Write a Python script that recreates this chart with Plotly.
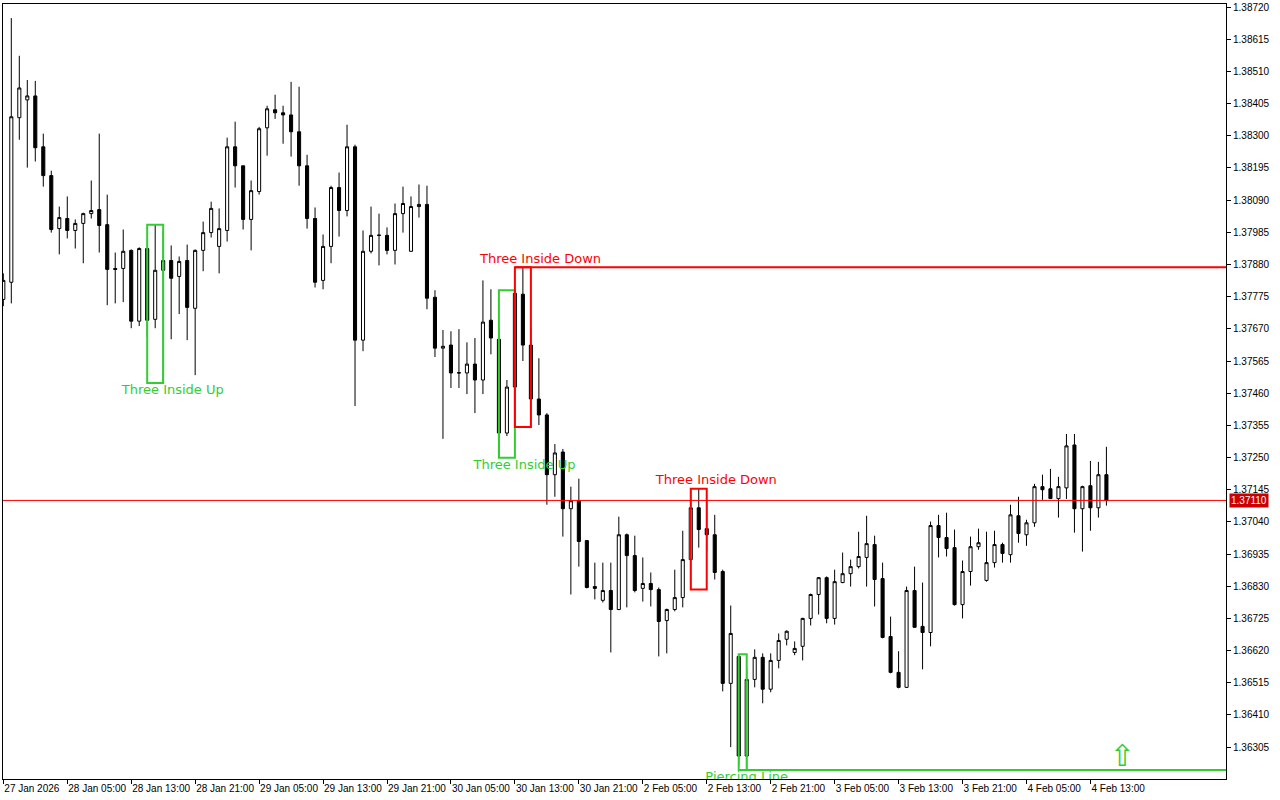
import plotly.graph_objects as go

# ---------------- data (hourly candles, 27 Jan 21:00 -> 4 Feb 18:00) ----------------
open_ = [1.37766, 1.37822, 1.38359, 1.38417, 1.38430, 1.38264, 1.38170, 1.37997, 1.38030, 1.37991,
         1.38014, 1.38046, 1.38059, 1.38010, 1.37867, 1.37867, 1.37926, 1.37695, 1.37932, 1.37701,
         1.37861, 1.37893, 1.37841, 1.37893, 1.37737, 1.37926, 1.37984, 1.37939, 1.37991, 1.38264,
         1.38202, 1.38027, 1.38118, 1.38326, 1.38385, 1.38375, 1.38368, 1.38313, 1.38202, 1.38030,
         1.37828, 1.37939, 1.38131, 1.38056, 1.38264, 1.37633, 1.37923, 1.37976, 1.37975, 1.37926,
         1.38046, 1.37923, 1.38069, 1.38076, 1.37773, 1.37607, 1.37617, 1.37527, 1.37526, 1.37555,
         1.37503, 1.37698, 1.37636, 1.37330, 1.37480, 1.37783, 1.37617, 1.37441, 1.37389, 1.37194,
         1.37268, 1.37083, 1.37109, 1.36979, 1.36829, 1.36784, 1.36816, 1.36754, 1.36998, 1.36930,
         1.36823, 1.36839, 1.36819, 1.36718, 1.36754, 1.36793, 1.36917, 1.37086, 1.37018, 1.36998,
         1.36878, 1.36513, 1.36601, 1.36276, 1.36526, 1.36598, 1.36494, 1.36588, 1.36657, 1.36614,
         1.36634, 1.36725, 1.36803, 1.36858, 1.36725, 1.36842, 1.36871, 1.36894, 1.36924, 1.36966,
         1.36855, 1.36666, 1.36549, 1.36500, 1.36816, 1.36699, 1.36679, 1.37028, 1.36989, 1.36956,
         1.36770, 1.36878, 1.36959, 1.36849, 1.36907, 1.36966, 1.36933, 1.37060, 1.36998, 1.37037,
         1.37155, 1.37148, 1.37116, 1.37151, 1.37291, 1.37083, 1.37158, 1.37086, 1.37194]

high = [1.37851, 1.38684, 1.38561, 1.38482, 1.38479, 1.38307, 1.38186, 1.38069, 1.38102, 1.38027,
        1.38049, 1.38154, 1.38307, 1.38108, 1.37919, 1.37994, 1.37929, 1.37936, 1.37936, 1.38010,
        1.37991, 1.37942, 1.37906, 1.37945, 1.37929, 1.38020, 1.38085, 1.38063, 1.38294, 1.38346,
        1.38202, 1.38154, 1.38329, 1.38398, 1.38434, 1.38398, 1.38476, 1.38460, 1.38238, 1.38066,
        1.37978, 1.38137, 1.38180, 1.38336, 1.38271, 1.37991, 1.38069, 1.38046, 1.38001, 1.38079,
        1.38134, 1.38102, 1.38141, 1.38137, 1.37796, 1.37666, 1.37662, 1.37669, 1.37626, 1.37640,
        1.37828, 1.37799, 1.37672, 1.37503, 1.37796, 1.37871, 1.37672, 1.37574, 1.37395, 1.37294,
        1.37278, 1.37155, 1.37181, 1.36979, 1.36907, 1.36907, 1.36907, 1.37057, 1.37002, 1.36995,
        1.36924, 1.36875, 1.36826, 1.36757, 1.36884, 1.37011, 1.37148, 1.37148, 1.37112, 1.37063,
        1.36884, 1.36767, 1.36608, 1.36562, 1.36624, 1.36611, 1.36611, 1.36676, 1.36686, 1.36650,
        1.36727, 1.36806, 1.36860, 1.36862, 1.36884, 1.36940, 1.36917, 1.37008, 1.37060, 1.36995,
        1.36907, 1.36731, 1.36618, 1.36829, 1.36894, 1.36842, 1.37041, 1.37063, 1.37070, 1.37015,
        1.36914, 1.36992, 1.37018, 1.37008, 1.37011, 1.36972, 1.37096, 1.37122, 1.37047, 1.37164,
        1.37194, 1.37213, 1.37187, 1.37327, 1.37327, 1.37158, 1.37239, 1.37236, 1.37285]

low = [1.37744, 1.37753, 1.38287, 1.38196, 1.38216, 1.38134, 1.37984, 1.37913, 1.37965, 1.37932,
       1.37884, 1.38030, 1.37919, 1.37747, 1.37753, 1.37757, 1.37672, 1.37679, 1.37643, 1.37672,
       1.37493, 1.37636, 1.37718, 1.37633, 1.37519, 1.37858, 1.37968, 1.37851, 1.37955, 1.38131,
       1.37994, 1.37926, 1.38108, 1.38235, 1.38355, 1.38274, 1.38232, 1.38137, 1.37997, 1.37805,
       1.37799, 1.37884, 1.37971, 1.38037, 1.37418, 1.37597, 1.37916, 1.37877, 1.37913, 1.37880,
       1.37984, 1.37921, 1.38033, 1.37734, 1.37578, 1.37311, 1.37477, 1.37477, 1.37457, 1.37395,
       1.37457, 1.37587, 1.37249, 1.37320, 1.37444, 1.37565, 1.37350, 1.37356, 1.37096, 1.37122,
       1.36992, 1.36803, 1.36894, 1.36823, 1.36787, 1.36777, 1.36614, 1.36752, 1.36761, 1.36810,
       1.36780, 1.36764, 1.36601, 1.36611, 1.36748, 1.36761, 1.36819, 1.36956, 1.36946, 1.36852,
       1.36487, 1.36305, 1.36246, 1.36230, 1.36500, 1.36448, 1.36484, 1.36562, 1.36637, 1.36605,
       1.36588, 1.36702, 1.36738, 1.36709, 1.36705, 1.36840, 1.36829, 1.36888, 1.36829, 1.36764,
       1.36660, 1.36546, 1.36497, 1.36498, 1.36694, 1.36559, 1.36634, 1.36924, 1.36927, 1.36767,
       1.36725, 1.36832, 1.36949, 1.36845, 1.36891, 1.36907, 1.36907, 1.36972, 1.36962, 1.37024,
       1.37112, 1.37122, 1.37054, 1.37115, 1.37005, 1.36943, 1.37011, 1.37054, 1.37093]

close = [1.37828, 1.38362, 1.38456, 1.38430, 1.38261, 1.38170, 1.37994, 1.38033, 1.37991, 1.38014,
         1.38046, 1.38056, 1.38007, 1.37864, 1.37864, 1.37923, 1.37695, 1.37932, 1.37698, 1.37861,
         1.37893, 1.37835, 1.37890, 1.37740, 1.37926, 1.37984, 1.38063, 1.37997, 1.38264, 1.38202,
         1.38027, 1.38121, 1.38323, 1.38388, 1.38375, 1.38368, 1.38313, 1.38202, 1.38030, 1.37822,
         1.37939, 1.38131, 1.38056, 1.38264, 1.37633, 1.37923, 1.37975, 1.37975, 1.37926, 1.38046,
         1.38079, 1.38069, 1.38076, 1.37770, 1.37607, 1.37613, 1.37526, 1.37526, 1.37555, 1.37503,
         1.37692, 1.37640, 1.37330, 1.37480, 1.37786, 1.37617, 1.37441, 1.37389, 1.37194, 1.37265,
         1.37083, 1.37109, 1.36976, 1.36826, 1.36823, 1.36816, 1.36754, 1.36998, 1.36930, 1.36816,
         1.36839, 1.36819, 1.36715, 1.36754, 1.36793, 1.36917, 1.37086, 1.37015, 1.36998, 1.36875,
         1.36513, 1.36676, 1.36276, 1.36526, 1.36598, 1.36494, 1.36588, 1.36653, 1.36683, 1.36627,
         1.36725, 1.36803, 1.36858, 1.36725, 1.36845, 1.36871, 1.36894, 1.36927, 1.36969, 1.36852,
         1.36663, 1.36549, 1.36500, 1.36816, 1.36696, 1.36679, 1.37028, 1.36989, 1.36953, 1.36770,
         1.36878, 1.36959, 1.36972, 1.36907, 1.36966, 1.36937, 1.37063, 1.37002, 1.37037, 1.37155,
         1.37145, 1.37116, 1.37155, 1.37288, 1.37083, 1.37155, 1.37086, 1.37194, 1.37110]

x_tick_index = [0, 8, 16, 24, 32, 40, 48, 56, 64, 72, 80, 88, 96, 104, 112, 120, 128, 136]
x_tick_labels = ["27 Jan 2026", "28 Jan 05:00", "28 Jan 13:00", "28 Jan 21:00", "29 Jan 05:00",
                 "29 Jan 13:00", "29 Jan 21:00", "30 Jan 05:00", "30 Jan 13:00", "30 Jan 21:00",
                 "2 Feb 05:00", "2 Feb 13:00", "2 Feb 21:00", "3 Feb 05:00", "3 Feb 13:00",
                 "3 Feb 21:00", "4 Feb 05:00", "4 Feb 13:00"]

y_tick_values = [1.38720, 1.38615, 1.38510, 1.38405, 1.38300, 1.38195, 1.38090, 1.37985,
                 1.37880, 1.37775, 1.37670, 1.37565, 1.37460, 1.37355, 1.37250, 1.37145,
                 1.37040, 1.36935, 1.36830, 1.36725, 1.36620, 1.36515, 1.36410, 1.36305]

current_price = 1.37110

# pattern name, first candle, last candle, direction, extended level
patterns = [
    ("Three Inside Up", 18, 20, "bull", None),
    ("Three Inside Up", 62, 64, "bull", None),
    ("Three Inside Down", 64, 66, "bear", "high"),
    ("Three Inside Down", 86, 88, "bear", None),
    ("Piercing Line", 92, 93, "bull", "low"),
]

signal_index = 140
signal_price = 1.36268

# ---------------- style ----------------
GREEN = "#32CD32"
RED = "#FF0000"
FONT = "Liberation Sans"
X_RANGE = [-0.04, 152.96]
Y_RANGE = [1.36201, 1.38730]
PX = (Y_RANGE[1] - Y_RANGE[0]) / 777.0  # price per pixel

idx = list(range(len(open_)))

fig = go.Figure()
fig.add_trace(go.Candlestick(
    x=idx, open=open_, high=high, low=low, close=close,
    increasing=dict(line=dict(color="black", width=1), fillcolor="white"),
    decreasing=dict(line=dict(color="black", width=1), fillcolor="black"),
    whiskerwidth=0, hoverinfo="skip", showlegend=False,
))

shapes = []
shapes.append(dict(type="line", xref="paper", x0=0, x1=1, yref="y",
                   y0=current_price, y1=current_price, line=dict(color=RED, width=1)))

for name, a, b, kind, ext in patterns:
    col = GREEN if kind == "bull" else RED
    top = max(high[a:b + 1])
    bot = min(low[a:b + 1])
    shapes.append(dict(type="rect", xref="x", yref="y", x0=a, x1=b, y0=bot, y1=top,
                       line=dict(color=col, width=2), fillcolor="rgba(0,0,0,0)"))
    if ext == "high":
        shapes.append(dict(type="line", xref="x", yref="y", x0=a, x1=X_RANGE[1],
                           y0=top, y1=top, line=dict(color=col, width=2)))
    elif ext == "low":
        shapes.append(dict(type="line", xref="x", yref="y", x0=a, x1=X_RANGE[1],
                           y0=bot, y1=bot, line=dict(color=col, width=2)))
    lx = b + (1.2 if b - a == 2 else 0.0)
    ly = bot - 8 * PX if kind == "bull" else top + 8 * PX
    fig.add_trace(go.Scatter(
        x=[lx], y=[ly], mode="text", text=[name], textposition="middle center",
        textfont=dict(family="DejaVu Sans", size=13, color=col),
        cliponaxis=True, hoverinfo="skip", showlegend=False,
    ))

fig.add_trace(go.Scatter(
    x=[signal_index], y=[signal_price], mode="text", text=["⇧"], textposition="middle center",
    textfont=dict(family="DejaVu Sans", size=30, color=GREEN),
    cliponaxis=True, hoverinfo="skip", showlegend=False,
))

fig.update_layout(
    width=1280, height=800,
    margin=dict(l=2, r=54, t=2, b=21, pad=0),
    paper_bgcolor="white", plot_bgcolor="white",
    boxgap=0.45,
    shapes=shapes,
    showlegend=False,
    annotations=[dict(
        xref="paper", x=1, xanchor="left", xshift=3,
        yref="y", y=current_price, yanchor="middle",
        text=f"{current_price:.5f}", showarrow=False,
        font=dict(family=FONT, size=10, color="white"),
        bgcolor="#CC0000", borderpad=1,
    )],
)

fig.update_xaxes(
    range=X_RANGE, showgrid=False, zeroline=False,
    showline=True, mirror=True, linecolor="black", linewidth=1,
    ticks="outside", ticklen=4, tickcolor="black", tickwidth=1,
    tickvals=x_tick_index, ticktext=x_tick_labels,
    ticklabelposition="outside right", tickangle=0,
    tickfont=dict(family=FONT, size=10, color="black"),
    rangeslider=dict(visible=False), fixedrange=True,
)
fig.update_yaxes(
    range=Y_RANGE, side="right", showgrid=False, zeroline=False,
    showline=True, mirror=True, linecolor="black", linewidth=1,
    ticks="outside", ticklen=4, tickcolor="black", tickwidth=1,
    tickvals=y_tick_values, ticktext=[f"{v:.5f}" for v in y_tick_values],
    tickfont=dict(family=FONT, size=10, color="black"),
    ticklabeloverflow="allow",
    fixedrange=True,
)

fig.write_html(
    "out.html",
    config={"displayModeBar": False},
    post_script="document.body.style.margin='0';document.body.style.overflow='hidden';",
)
